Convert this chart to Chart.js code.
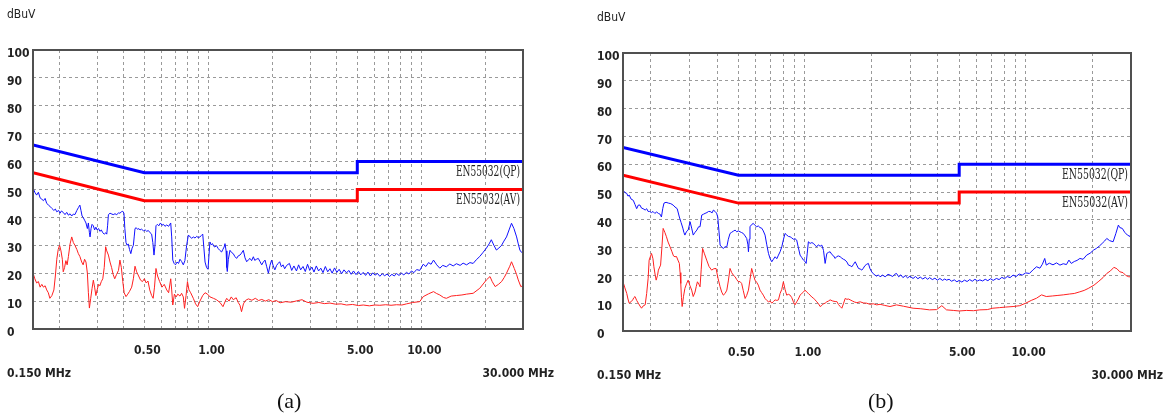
<!DOCTYPE html>
<html>
<head>
<meta charset="utf-8">
<script src="https://cdn.jsdelivr.net/npm/chart.js@4.4.0/dist/chart.umd.min.js"></script>
<style>
  body { margin: 0; background: #fff; width: 1170px; height: 420px; overflow: hidden; position: relative; }
  canvas { position: absolute; top: 0; }
  #chartA { left: 0; }
  #chartB { left: 590px; }
  .cap { position: absolute; top: 388px; font: 22px "Liberation Serif", serif; color: #111; line-height: 26px; }
</style>
</head>
<body>
<canvas id="chartA" width="560" height="390"></canvas>
<canvas id="chartB" width="580" height="390"></canvas>
<div class="cap" style="left:277px">(a)</div>
<div class="cap" style="left:868px">(b)</div>
<script>
// EN55032 limit lines (MHz / dBuV)
const limitFreq = [0.15, 0.5, 5, 5, 30];
const qpLimit = [66, 56, 56, 60, 60];
const avLimit = [56, 46, 46, 50, 50];
const limitNames = ['EN55032(QP)', 'EN55032(AV)'];

// axes
const yTicks = [0, 10, 20, 30, 40, 50, 60, 70, 80, 90, 100];
const xGridFreq = [0.2, 0.3, 0.4, 0.5, 0.6, 0.7, 0.8, 0.9, 1, 2, 3, 4, 5, 6, 7, 8, 9, 10, 20];
const xLabelFreq = [0.5, 1, 5, 10];
const unitLabel = 'dBuV';
const startLabel = '0.150 MHz';
const stopLabel = '30.000 MHz';

const aQp = [[0.150,50.5],[0.153,49],[0.156,48],[0.159,49],[0.162,47],[0.165,46.5],[0.168,46],[0.171,46.8],[0.174,45],[0.177,44.5],
  [0.180,44],[0.184,43.2],[0.188,42.5],[0.191,43],[0.194,42],[0.198,42.5],[0.201,41.5],[0.204,42.3],[0.208,41.8],[0.212,41],
  [0.216,41.8],[0.220,40.8],[0.224,41.3],[0.228,40.5],[0.232,41.2],[0.236,41],[0.241,42.5],[0.245,43.5],[0.249,44.4],[0.252,42.5],
  [0.255,40.5],[0.258,40],[0.262,39],[0.266,38],[0.270,36],[0.273,38],[0.276,34.5],[0.278,33],[0.281,36],[0.284,37.5],
  [0.288,37],[0.292,35.5],[0.296,36.5],[0.300,35.5],[0.305,36],[0.309,35],[0.314,35.5],[0.319,34.5],[0.324,34],[0.330,34.5],
  [0.333,34],[0.336,37],[0.339,41],[0.345,41.5],[0.352,41.2],[0.357,41],[0.364,41.3],[0.371,41],[0.378,41.6],[0.384,41.5],
  [0.390,42],[0.396,42.2],[0.401,41.5],[0.405,36],[0.410,31],[0.415,30],[0.420,30.5],[0.426,28.5],[0.432,27],[0.438,29],
  [0.444,30],[0.448,33],[0.452,36],[0.458,36.3],[0.465,35.7],[0.471,36],[0.477,35.5],[0.485,35.8],[0.495,35.2],[0.505,35.5],
  [0.513,35],[0.522,35.3],[0.532,34.5],[0.541,34],[0.548,31],[0.555,26.5],[0.561,30],[0.567,37],[0.575,37.5],[0.585,37],
  [0.595,38],[0.605,37.2],[0.615,37.5],[0.625,36.8],[0.637,37.3],[0.650,36.8],[0.665,38],[0.672,33],[0.680,24.7],[0.690,23.5],
  [0.700,23],[0.712,24],[0.724,23.5],[0.735,25],[0.748,24.2],[0.762,23],[0.775,24.5],[0.790,30],[0.805,33.7],[0.820,33],
  [0.835,32.5],[0.849,33],[0.865,32.6],[0.880,33.2],[0.895,32.8],[0.912,33],[0.926,33.5],[0.940,34],[0.952,29],[0.964,24],
  [0.980,22],[0.995,21.4],[1.005,26],[1.016,31.2],[1.030,30.2],[1.045,30.6],[1.060,29.6],[1.073,29.4],[1.090,29.9],[1.112,28.8],
  [1.130,28.2],[1.153,27.6],[1.170,28.6],[1.185,29.4],[1.196,30.6],[1.210,28],[1.220,22],[1.226,20.6],[1.240,25],[1.262,28.2],
  [1.285,27.4],[1.308,27],[1.330,26],[1.356,25.3],[1.380,26.2],[1.406,26.5],[1.430,27.2],[1.458,28.2],[1.485,25.5],[1.512,24.1],
  [1.540,24.8],[1.567,25.3],[1.595,24.5],[1.625,25.9],[1.650,24.6],[1.680,25],[1.714,25.3],[1.745,24.2],[1.779,23],[1.810,24],
  [1.844,24.7],[1.875,22.5],[1.912,20],[1.945,22.8],[1.980,24.7],[2.015,22.6],[2.050,21.2],[2.090,22.8],[2.125,23.5],[2.160,24.1],
  [2.200,22.3],[2.240,23],[2.280,21.6],[2.33,22.8],[2.40,23.5],[2.46,21],[2.52,22.6],[2.59,20.8],[2.65,23],[2.71,21.2],
  [2.78,22.4],[2.85,20.6],[2.92,23.2],[2.99,21],[3.06,22.2],[3.13,20.4],[3.21,22.6],[3.29,20.8],[3.37,21.8],[3.45,20.2],
  [3.54,22.4],[3.63,20.5],[3.72,21.6],[3.81,20],[3.91,21.9],[4.01,20.3],[4.11,21.4],[4.22,19.8],[4.33,21.2],[4.45,20.1],
  [4.56,21],[4.68,19.6],[4.80,20.8],[4.93,19.5],[5.06,20.6],[5.19,19.4],[5.33,20.3],[5.47,19.2],[5.61,20.4],[5.76,19],
  [5.91,20.1],[6.06,19.3],[6.22,19.9],[6.38,18.9],[6.55,19.8],[6.72,19.1],[6.90,19.7],[7.08,18.8],[7.27,19.6],[7.46,19],
  [7.64,19.9],[7.85,19.2],[8.06,20],[8.27,19.4],[8.51,20.3],[8.74,19.7],[8.98,20.8],[9.22,20.2],[9.50,21.3],[9.82,21],
  [10.2,23.2],[10.5,22.4],[10.8,23.8],[11.1,23.2],[11.4,24.7],[11.8,23],[12.2,21.8],[12.6,22.8],[13.1,22.3],[13.6,23.3],
  [14.1,22.6],[14.6,23.4],[15.2,22.8],[15.7,23.6],[16.3,23],[16.9,23.8],[17.5,23.5],[18.1,24.8],[18.8,26],[19.5,27.5],
  [20.2,29],[20.8,30.5],[21.3,32],[21.9,30],[22.5,28.3],[23.1,29],[23.8,30],[24.4,31.5],[25.1,33],[25.8,35.5],
  [26.5,37.9],[27.2,36],[28.0,33],[28.5,30.5],[29.0,28.3],[29.5,27.5],[30.0,27],[30.0,30.5]];

const aAv = [[0.150,20],[0.153,18],[0.156,16.5],[0.159,17],[0.162,15],[0.165,16],[0.168,15],[0.171,15.5],[0.174,14],[0.177,13],
  [0.180,11],[0.184,12],[0.188,14],[0.191,19],[0.194,25],[0.197,28.5],[0.200,30],[0.203,28],[0.206,25],[0.208,20.5],
  [0.211,22],[0.214,24.5],[0.217,23],[0.220,26],[0.224,30.5],[0.228,33],[0.232,31],[0.236,30],[0.241,28.5],[0.245,27],
  [0.249,26],[0.254,24],[0.258,23],[0.262,25],[0.266,24],[0.270,20],[0.273,13],[0.276,7.5],[0.280,11],[0.284,14.5],
  [0.288,17.5],[0.292,15],[0.296,12],[0.300,14],[0.305,16],[0.309,15.5],[0.314,17],[0.319,18],[0.324,22],[0.329,29.5],
  [0.333,28],[0.339,26.5],[0.345,24],[0.351,22],[0.357,19.5],[0.363,18],[0.370,19.5],[0.378,21],[0.384,24.7],[0.390,22],
  [0.396,17],[0.402,13],[0.410,11.6],[0.418,12.5],[0.426,13.5],[0.436,15],[0.444,18],[0.452,22.5],[0.460,20.5],[0.470,19],
  [0.480,17.5],[0.490,17],[0.500,18],[0.510,16.5],[0.520,17.2],[0.530,14],[0.541,12],[0.550,11],[0.558,15],[0.567,21.7],
  [0.577,19],[0.590,17],[0.605,15],[0.620,16],[0.637,14],[0.650,13],[0.665,18],[0.672,14],[0.680,8.6],[0.692,12.5],
  [0.705,11.5],[0.718,12.5],[0.735,11.8],[0.748,12.8],[0.762,11.5],[0.772,7.4],[0.785,12],[0.797,17],[0.810,14],[0.825,13],
  [0.849,11],[0.870,9],[0.890,8],[0.912,10],[0.940,12],[0.964,13],[0.990,12.5],[1.017,11.5],[1.055,11],[1.090,10.5],
  [1.133,9.5],[1.170,8],[1.200,10],[1.218,11],[1.250,10],[1.280,11.5],[1.308,10.5],[1.350,11.2],[1.380,9.5],[1.406,8.5],
  [1.430,6.2],[1.460,9],[1.490,10.2],[1.540,10.8],[1.600,10.3],[1.660,11],[1.720,10.2],[1.780,10.6],[1.850,10],[1.920,10.5],
  [2.000,9.8],[2.080,10.2],[2.17,9.4],[2.3,9.8],[2.45,9.6],[2.6,10.1],[2.75,10.5],[2.9,9.6],[3.1,9.2],[3.3,9.5],
  [3.5,9.1],[3.72,9.3],[3.95,8.9],[4.2,9],[4.45,8.6],[4.75,8.8],[5.06,8.4],[5.33,8.6],[5.7,8.3],[6.05,8.6],
  [6.38,8.5],[6.8,8.7],[7.2,8.5],[7.64,8.7],[8.1,8.6],[8.51,9],[9.1,9.5],[9.82,9.8],[10.2,11.6],[10.8,12.6],
  [11.4,13.4],[11.8,12.7],[12.2,12.2],[12.7,11.3],[13.1,11],[13.8,11.8],[14.6,12],[15.5,12.2],[16.3,12.5],[17.5,12.8],
  [18.8,14.6],[20.2,17.6],[21.0,18.8],[21.5,17],[22.2,15.2],[23.0,16],[23.8,17],[24.5,18.5],[25.1,20],[26.0,22.5],
  [26.5,24.1],[27.3,21.7],[28.0,19.5],[28.5,17.6],[29.3,15.2],[30.0,15.5],[30.0,23.5]];

const bQp = [[0.150,50.7],[0.153,49.8],[0.156,49.5],[0.158,48.5],[0.160,48.9],[0.163,47.5],[0.167,47],[0.170,45.5],[0.173,44],[0.176,45.3],
  [0.179,45.3],[0.182,44.2],[0.185,44],[0.189,43.5],[0.192,44],[0.195,43],[0.198,43],[0.202,42.6],[0.205,43],[0.209,42.3],
  [0.213,42.8],[0.217,42.3],[0.221,42],[0.224,41],[0.227,44],[0.230,46],[0.235,46.3],[0.241,46],[0.247,45.8],[0.253,45.3],
  [0.258,44.6],[0.264,44],[0.270,41],[0.275,39],[0.280,37],[0.283,35.5],[0.286,34.5],[0.291,35.8],[0.296,36.3],[0.302,39.3],
  [0.307,37],[0.312,34.5],[0.318,35.5],[0.324,36.3],[0.330,37.5],[0.335,37.5],[0.341,41.7],[0.347,42],[0.353,42.3],[0.360,42.6],
  [0.366,43],[0.372,43],[0.380,42.5],[0.385,43.5],[0.392,43],[0.398,42.4],[0.403,41],[0.408,36],[0.413,30.9],[0.420,30.2],
  [0.427,29.7],[0.435,30.3],[0.443,30.3],[0.450,33],[0.458,35.1],[0.466,35.5],[0.474,35.9],[0.483,36.3],[0.491,35.7],[0.500,36],
  [0.508,35.7],[0.517,35.4],[0.526,35.1],[0.536,34.2],[0.545,33.3],[0.552,31],[0.555,28.5],[0.560,33],[0.564,37.5],[0.574,38.3],
  [0.584,38.7],[0.594,38],[0.605,37.5],[0.615,37.8],[0.626,37.2],[0.637,37],[0.648,36],[0.660,34.5],[0.672,31],[0.684,27.9],
  [0.696,26],[0.708,24.9],[0.720,25.8],[0.733,26.7],[0.746,26],[0.759,27.3],[0.772,28.5],[0.786,30.3],[0.800,33],[0.813,35.1],
  [0.828,34.5],[0.843,34],[0.857,33.9],[0.872,33.5],[0.887,33],[0.902,33.2],[0.918,32.7],[0.934,30],[0.951,27.3],[0.968,26.4],
  [0.985,25.5],[1.002,25],[1.013,24.3],[1.025,28],[1.037,32.1],[1.056,31.5],[1.075,31.8],[1.094,31.5],[1.112,30.8],[1.132,30.3],
  [1.150,31],[1.172,30.5],[1.193,30.9],[1.214,29],[1.235,24.3],[1.257,27.9],[1.280,28.3],[1.301,28.5],[1.325,27.5],[1.350,27],
  [1.371,26.1],[1.395,26.8],[1.420,27],[1.445,26.7],[1.470,26.2],[1.495,25.8],[1.522,25.5],[1.550,24.8],[1.576,23.7],[1.604,23.5],
  [1.632,23.1],[1.660,24],[1.690,24.9],[1.719,23.7],[1.749,22.5],[1.780,22.3],[1.811,21.9],[1.840,22.6],[1.870,23.5],[1.905,24],
  [1.939,24.3],[1.972,22.4],[2.007,21.3],[2.040,20.6],[2.078,20.1],[2.115,19.7],[2.15,20.2],[2.19,19.5],[2.25,20.1],[2.31,19.5],
  [2.38,20.4],[2.43,20.1],[2.50,19.6],[2.55,20.4],[2.60,20.7],[2.66,19.5],[2.72,20.2],[2.78,19.2],[2.85,19.9],[2.92,19.1],
  [2.99,19.7],[3.09,18.9],[3.17,19.6],[3.25,18.8],[3.33,19.4],[3.42,18.7],[3.51,19.3],[3.60,18.6],[3.67,19.2],[3.78,18.5],
  [3.88,19],[3.98,18.3],[4.09,18.9],[4.20,18.2],[4.30,18.7],[4.38,18.3],[4.50,18.6],[4.62,17.9],[4.75,18.4],[4.88,17.7],
  [5.00,18.2],[5.14,17.6],[5.28,18.3],[5.43,17.8],[5.58,18.5],[5.73,17.9],[5.89,18.6],[6.05,18],[6.20,18.4],[6.38,18],
  [6.56,18.6],[6.74,18.1],[6.93,18.8],[7.13,18.2],[7.37,18.9],[7.58,18.5],[7.80,19.3],[8.02,18.8],[8.25,19.6],[8.50,19.2],
  [8.77,20.1],[9.05,19.6],[9.35,20.5],[9.65,20.1],[10.0,20.9],[10.4,20.7],[10.8,22],[11.2,23.1],[11.6,22.6],[11.9,24],
  [12.2,26.1],[12.4,23.7],[12.8,24.4],[13.3,23.8],[13.8,24.5],[14.3,23.7],[14.8,24.2],[15.3,23.9],[15.7,25.5],[16.1,24.3],
  [16.6,25],[17.1,25.4],[17.6,26.1],[18.2,25.8],[18.9,27.3],[19.6,28],[20.3,29.1],[20.9,29.7],[21.6,30.6],[22.2,31.5],
  [22.8,32.4],[23.3,33.3],[24.0,32.5],[24.9,32.1],[25.6,35],[26.3,38.1],[26.7,37.2],[27.4,36.9],[28.1,35.5],[28.9,34.5],
  [29.7,34],[30.0,35],[30.0,38]];

const bAv = [[0.150,17.7],[0.153,15.5],[0.156,13.5],[0.158,11.5],[0.160,10],[0.163,10.5],[0.166,11.2],[0.168,12],[0.170,12.4],[0.173,11],
  [0.176,10],[0.179,9],[0.182,8.2],[0.185,9],[0.189,9.4],[0.192,13.5],[0.195,19],[0.197,25.5],[0.200,27],[0.202,27.9],
  [0.205,26],[0.207,23.1],[0.210,20],[0.212,18.3],[0.215,20],[0.217,21.9],[0.220,23],[0.222,23.7],[0.225,30],[0.228,36.9],
  [0.232,35.5],[0.236,33.9],[0.240,32],[0.245,30.3],[0.250,28.5],[0.254,27],[0.258,26.7],[0.262,26.8],[0.266,25.5],[0.270,24.3],
  [0.272,21],[0.274,17.1],[0.276,12],[0.278,8.8],[0.282,12.5],[0.286,15.3],[0.291,17],[0.296,18.3],[0.301,16.5],[0.307,14.7],
  [0.312,12.4],[0.318,14],[0.322,16],[0.326,17.7],[0.331,16.8],[0.335,15.9],[0.339,22],[0.344,29.7],[0.350,28],[0.359,25.5],
  [0.368,23.2],[0.378,21.9],[0.387,22.4],[0.396,22.5],[0.404,19],[0.413,15.9],[0.420,14],[0.427,12.9],[0.435,13.5],[0.443,14.7],
  [0.450,18],[0.458,22.5],[0.466,21],[0.474,20.1],[0.483,19.5],[0.491,18.5],[0.500,17.7],[0.508,17.8],[0.517,17.1],[0.526,14.5],
  [0.536,11.7],[0.545,12.8],[0.555,14.7],[0.564,18.5],[0.574,22.5],[0.584,20.3],[0.594,18.3],[0.605,17.5],[0.615,16.5],[0.626,14.7],
  [0.637,13.8],[0.648,12.9],[0.660,11.7],[0.672,11],[0.684,10.5],[0.696,10.8],[0.708,10],[0.720,10.6],[0.733,11.2],[0.746,11],
  [0.759,11.2],[0.772,13.5],[0.786,15],[0.799,17.7],[0.813,15],[0.827,12.9],[0.842,13.2],[0.857,12.9],[0.872,12],[0.887,10.5],
  [0.902,9.4],[0.918,10.5],[0.934,11.5],[0.951,12.9],[0.968,13.5],[0.985,14],[1.002,14.7],[1.020,14],[1.037,13.5],[1.056,12.9],
  [1.075,12.2],[1.094,11.8],[1.112,11.2],[1.132,10.5],[1.152,9.8],[1.172,8.8],[1.193,9.2],[1.214,9.8],[1.235,10],[1.257,10.5],
  [1.280,10.8],[1.301,11.2],[1.335,10.8],[1.371,10.6],[1.395,10.6],[1.420,9.5],[1.445,8.8],[1.470,8.2],[1.495,9.8],[1.522,11.7],
  [1.550,11.4],[1.576,11.5],[1.604,11.2],[1.640,10.8],[1.680,10.4],[1.719,10.2],[1.780,10.5],[1.840,10.1],[1.905,10],[1.970,9.6],
  [2.040,9.8],[2.115,9.4],[2.19,9.6],[2.30,9.2],[2.43,8.8],[2.60,9.4],[2.80,8.9],[3.09,8.2],[3.35,8],[3.67,7.6],
  [3.95,7.7],[4.17,9.1],[4.38,7.6],[4.7,7.4],[5.0,7.2],[5.4,7.4],[5.8,7.3],[6.2,7.6],[6.7,7.7],[7.1,8.2],
  [7.6,8.4],[8.1,8.6],[8.77,8.8],[9.4,9.1],[10.0,10],[10.6,11],[11.2,11.8],[11.8,13],[12.4,12.4],[13.2,12.6],
  [14.0,12.8],[14.8,13],[15.8,13.3],[16.6,13.5],[17.6,14.1],[18.4,14.6],[19.2,15.3],[20.4,16.5],[21.3,17.7],[22.4,19.2],
  [23.3,20.7],[24.2,21.6],[25.1,22.9],[25.9,22.4],[26.7,21.3],[27.6,21],[28.4,20],[29.3,19.5],[30.0,19.5],[30.0,26]];

const FONT = '"DejaVu Sans Condensed", "DejaVu Sans", sans-serif';
const toXY = pairs => pairs.map(p => ({ x: p[0], y: p[1] }));
const zip = (xs, ys) => xs.map((x, i) => ({ x: x, y: ys[i] }));

const extras = {
  id: 'extras',
  afterDraw(chart, args, opts) {
    const { ctx, chartArea: a } = chart;
    const y = chart.scales.y;
    ctx.save();
    ctx.strokeStyle = '#505050';
    ctx.lineWidth = 2;
    ctx.strokeRect(a.left, a.top, a.right - a.left, a.bottom - a.top);

    ctx.fillStyle = '#222';
    ctx.textBaseline = 'middle';
    ctx.textAlign = 'left';
    ctx.font = '12px ' + FONT;
    ctx.fillText(unitLabel, 7, a.top - 35);
    ctx.font = 'bold 12px ' + FONT;
    ctx.fillText(startLabel, 7, a.bottom + 45);
    ctx.textAlign = 'right';
    ctx.fillText(stopLabel, a.right + opts.stopGap, a.bottom + 45);

    // limit names, narrow serif
    ctx.fillStyle = '#222';
    ctx.font = '15px "DejaVu Serif", serif';
    [[limitNames[0], qpLimit[4]], [limitNames[1], avLimit[4]]].forEach(([name, lvl]) => {
      const w = ctx.measureText(name).width;
      ctx.save();
      ctx.translate(a.right - 3, y.getPixelForValue(lvl) + 11);
      ctx.scale(opts.nameWidth / w, 1);
      ctx.fillText(name, 0, 0);
      ctx.restore();
    });
    ctx.restore();
  }
};

function buildChart(id, qp, av, pad, extraOpts) {
  return new Chart(document.getElementById(id), {
    type: 'line',
    data: {
      datasets: [
        { data: toXY(qp), borderColor: '#1010ff', borderWidth: 1 },
        { data: toXY(av), borderColor: '#ff2020', borderWidth: 1 },
        { data: zip(limitFreq, qpLimit), borderColor: '#0000ff', borderWidth: 3 },
        { data: zip(limitFreq, avLimit), borderColor: '#ff0000', borderWidth: 3 }
      ]
    },
    options: {
      responsive: false,
      animation: false,
      layout: { padding: pad },
      elements: { point: { radius: 0 }, line: { tension: 0, borderJoinStyle: 'miter' } },
      plugins: { legend: { display: false }, tooltip: { enabled: false }, extras: extraOpts },
      scales: {
        x: {
          type: 'logarithmic', min: 0.15, max: 30,
          afterBuildTicks: s => { s.ticks = xGridFreq.map(v => ({ value: v })); },
          afterFit: s => { s.height = 40; },
          grid: { color: '#9a9a9a', drawTicks: false },
          border: { display: false, dash: [3, 3] },
          ticks: {
            autoSkip: false, maxRotation: 0, padding: 15, labelOffset: 3, color: '#222',
            font: { family: FONT, size: 12, weight: 'bold' },
            callback: v => xLabelFreq.includes(v) ? v.toFixed(2) : ''
          }
        },
        y: {
          min: 0, max: 100,
          afterBuildTicks: s => { s.ticks = yTicks.map(v => ({ value: v })); },
          afterFit: s => { s.width = 26; },
          grid: { color: '#9a9a9a', drawTicks: false },
          border: { display: false, dash: [3, 3] },
          ticks: {
            crossAlign: 'far', padding: 0, labelOffset: 4, color: '#222',
            font: { family: FONT, size: 12, weight: 'bold' }
          }
        }
      }
    },
    plugins: [extras]
  });
}

buildChart('chartA', aQp, aAv, { left: 7, top: 50, right: 37, bottom: 21 }, { stopGap: 31, nameWidth: 64 });
buildChart('chartB', bQp, bAv, { left: 7, top: 53, right: 39, bottom: 19 }, { stopGap: 32, nameWidth: 66 });
</script>
</body>
</html>
